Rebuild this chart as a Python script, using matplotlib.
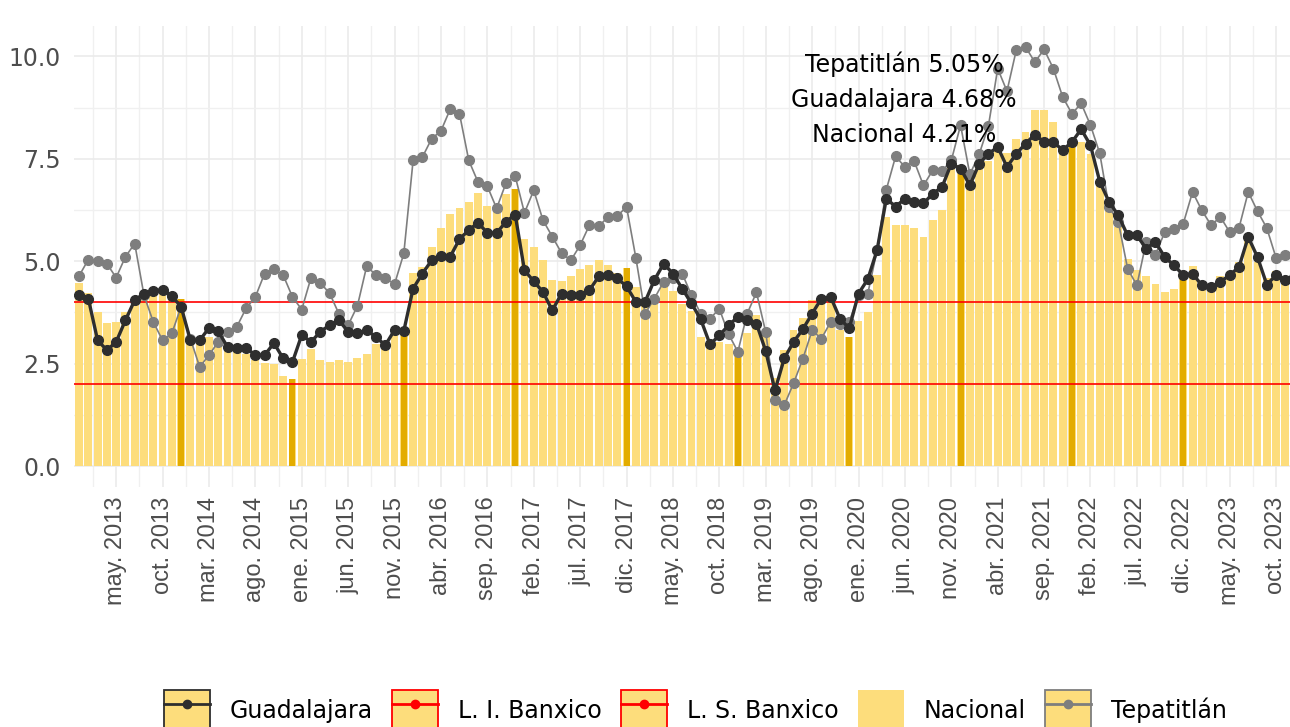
import numpy as np
import matplotlib
matplotlib.use("Agg")
import matplotlib.pyplot as plt
from matplotlib.patches import Patch
from matplotlib.lines import Line2D
from matplotlib.legend_handler import HandlerTuple
from matplotlib.ticker import FormatStrFormatter

# inflacion anual (%), mensual
nacional = [4.48, 4.23, 3.76, 3.50, 3.51, 3.75, 4.07, 4.15, 4.22, 4.30, 4.17, 4.08,
            3.07, 3.00, 3.14, 3.06, 2.88, 2.87, 2.74, 2.59, 2.52, 2.48, 2.21, 2.13,
            2.61, 2.87, 2.60, 2.54, 2.60, 2.54, 2.65, 2.73, 2.97, 3.06, 3.31, 3.36,
            4.72, 4.86, 5.35, 5.82, 6.16, 6.31, 6.44, 6.66, 6.35, 6.37, 6.63, 6.77,
            5.55, 5.34, 5.04, 4.55, 4.51, 4.65, 4.81, 4.90, 5.02, 4.90, 4.72, 4.83,
            4.37, 3.94, 4.00, 4.41, 4.28, 3.95, 3.78, 3.16, 3.00, 3.02, 2.97, 2.83,
            3.24, 3.70, 3.25, 2.15, 2.84, 3.33, 3.62, 4.05, 4.01, 4.09, 3.33, 3.15,
            3.54, 3.76, 4.67, 6.08, 5.89, 5.88, 5.81, 5.59, 6.00, 6.24, 7.37, 7.36,
            7.07, 7.28, 7.45, 7.68, 7.65, 7.99, 8.15, 8.70, 8.70, 8.41, 7.80, 7.82,
            7.91, 7.62, 6.85, 6.25, 5.84, 5.06, 4.79, 4.64, 4.45, 4.26, 4.32, 4.66,
            4.88, 4.40, 4.42, 4.65, 4.69, 4.98, 5.57, 4.99, 4.58, 4.76, 4.55, 4.21]

guadalajara = [4.17, 4.09, 3.07, 2.83, 3.03, 3.56, 4.05, 4.21, 4.27, 4.31, 4.15, 3.89,
               3.07, 3.07, 3.37, 3.29, 2.91, 2.88, 2.88, 2.71, 2.71, 3.00, 2.63, 2.54,
               3.20, 3.03, 3.28, 3.44, 3.56, 3.28, 3.24, 3.32, 3.15, 2.95, 3.32, 3.30,
               4.33, 4.70, 5.02, 5.13, 5.11, 5.54, 5.76, 5.94, 5.69, 5.69, 5.96, 6.14,
               4.78, 4.51, 4.25, 3.80, 4.21, 4.17, 4.17, 4.29, 4.63, 4.66, 4.58, 4.39,
               4.01, 4.01, 4.54, 4.94, 4.70, 4.33, 3.97, 3.58, 2.97, 3.19, 3.44, 3.64,
               3.56, 3.48, 2.81, 1.85, 2.63, 3.03, 3.34, 3.72, 4.09, 4.13, 3.60, 3.36,
               4.21, 4.56, 5.27, 6.53, 6.33, 6.53, 6.45, 6.41, 6.65, 6.81, 7.38, 7.26,
               6.85, 7.38, 7.62, 7.79, 7.30, 7.62, 7.87, 8.09, 7.91, 7.91, 7.71, 7.91,
               8.22, 7.83, 6.94, 6.45, 6.12, 5.63, 5.63, 5.31, 5.47, 5.10, 4.90, 4.66,
               4.70, 4.41, 4.37, 4.50, 4.66, 4.86, 5.59, 5.10, 4.43, 4.66, 4.54, 4.68]

tepatitlan = [4.64, 5.04, 5.00, 4.94, 4.60, 5.11, 5.43, 4.17, 3.52, 3.07, 3.24, 3.89,
              3.11, 2.42, 2.71, 3.03, 3.28, 3.40, 3.85, 4.13, 4.70, 4.80, 4.66, 4.13,
              3.82, 4.60, 4.47, 4.22, 3.72, 3.44, 3.91, 4.88, 4.66, 4.59, 4.44, 5.19,
              7.46, 7.54, 7.99, 8.18, 8.71, 8.60, 7.46, 6.93, 6.83, 6.29, 6.90, 7.08,
              6.18, 6.73, 6.00, 5.60, 5.20, 5.02, 5.39, 5.88, 5.85, 6.08, 6.10, 6.33,
              5.09, 3.72, 4.09, 4.50, 4.58, 4.70, 4.17, 3.72, 3.60, 3.84, 3.22, 2.79,
              3.72, 4.24, 3.27, 1.61, 1.49, 2.02, 2.62, 3.31, 3.11, 3.52, 3.48, 3.52,
              4.17, 4.21, 5.27, 6.75, 7.56, 7.30, 7.44, 6.85, 7.22, 7.20, 7.46, 8.32,
              7.12, 7.61, 8.30, 9.70, 9.15, 10.15, 10.23, 9.86, 10.17, 9.70, 9.01, 8.60,
              8.85, 8.32, 7.63, 6.32, 5.96, 4.82, 4.41, 5.47, 5.16, 5.71, 5.78, 5.92,
              6.69, 6.24, 5.88, 6.08, 5.71, 5.81, 6.69, 6.22, 5.81, 5.08, 5.14, 5.05]

limite_inferior = 2
limite_superior = 4

tick_labels = ["may. 2013", "oct. 2013", "mar. 2014", "ago. 2014", "ene. 2015",
               "jun. 2015", "nov. 2015", "abr. 2016", "sep. 2016", "feb. 2017",
               "jul. 2017", "dic. 2017", "may. 2018", "oct. 2018", "mar. 2019",
               "ago. 2019", "ene. 2020", "jun. 2020", "nov. 2020", "abr. 2021",
               "sep. 2021", "feb. 2022", "jul. 2022", "dic. 2022", "may. 2023",
               "oct. 2023"]

notas = ["Tepatitlán 5.05%", "Guadalajara 4.68%", "Nacional 4.21%"]

amarillo = "#FDDD7C"
oro = "#E3AC00"
c_gdl = "#2E2E2E"
c_tepa = "#7E7E7E"
gris_txt = "#4D4D4D"

meses = np.arange(len(nacional))
nac = np.array(nacional)
dic = meses % 12 == 11

fig = plt.figure(figsize=(12.9, 7.27), dpi=100)
ax = fig.add_axes([74.4 / 1290, 0.3301, 1 - 74.4 / 1290, 0.6341])

ax.bar(meses, nac, width=0.85, color=amarillo, zorder=2)
ax.bar(meses[dic], nac[dic], width=0.65, color=oro, zorder=2)

ax.axhline(limite_inferior, color="red", lw=1.2, zorder=3)
ax.axhline(limite_superior, color="red", lw=1.2, zorder=3)

ax.plot(meses, tepatitlan, color=c_tepa, lw=1.2, marker="o", ms=7, zorder=4)
ax.plot(meses, guadalajara, color=c_gdl, lw=2.4, marker="o", ms=7, zorder=5)

for k, t in enumerate(notas):
    ax.text(88.9, 9.80 - 0.865 * k, t, ha="center", va="center", fontsize=17,
            family="DejaVu Sans", color="black", zorder=6)

ax.set_xticks(np.arange(4, len(nacional), 5))
ax.set_xticks(np.arange(1.5, len(nacional), 5), minor=True)
ax.set_xticklabels(tick_labels, rotation=90, fontsize=17, family="Liberation Sans",
                   color=gris_txt)
ax.set_yticks([0, 2.5, 5, 7.5, 10])
ax.set_yticks([1.25, 3.75, 6.25, 8.75], minor=True)
ax.yaxis.set_major_formatter(FormatStrFormatter("%.1f"))
for lb in ax.get_yticklabels():
    lb.set_fontsize(17)
    lb.set_family("DejaVu Sans")
    lb.set_color(gris_txt)

ax.set_xlim(-0.5, 130.5)
ax.set_ylim(-0.51, 10.74)

ax.tick_params(axis="both", which="both", length=0)
ax.tick_params(axis="x", pad=7)
ax.tick_params(axis="y", pad=10)
ax.grid(which="major", color="#EBEBEB", lw=1.2)
ax.grid(which="minor", color="#F0F0F0", lw=1.0)
ax.set_axisbelow(True)
for s in ax.spines.values():
    s.set_visible(False)

# leyenda
def clave(c):
    return (Patch(facecolor=amarillo, edgecolor=c, lw=1.3),
            Line2D([], [], color=c, lw=2, marker="o", ms=6))

handles = [clave(c_gdl), clave("red"), clave("red"),
           Patch(facecolor=amarillo, edgecolor="none"), clave(c_tepa)]
labels = ["Guadalajara", "L. I. Banxico", "L. S. Banxico", "Nacional", "Tepatitlán"]
fig.legend(handles, labels, loc="center", bbox_to_anchor=(0.539, 0.022), ncol=5,
           frameon=False, handler_map={tuple: HandlerTuple(ndivide=1, pad=0)},
           prop={"family": "DejaVu Sans", "size": 17}, handlelength=1.95,
           handleheight=2.4, handletextpad=0.85, columnspacing=0.8)

fig.savefig("out.png", dpi=100)
